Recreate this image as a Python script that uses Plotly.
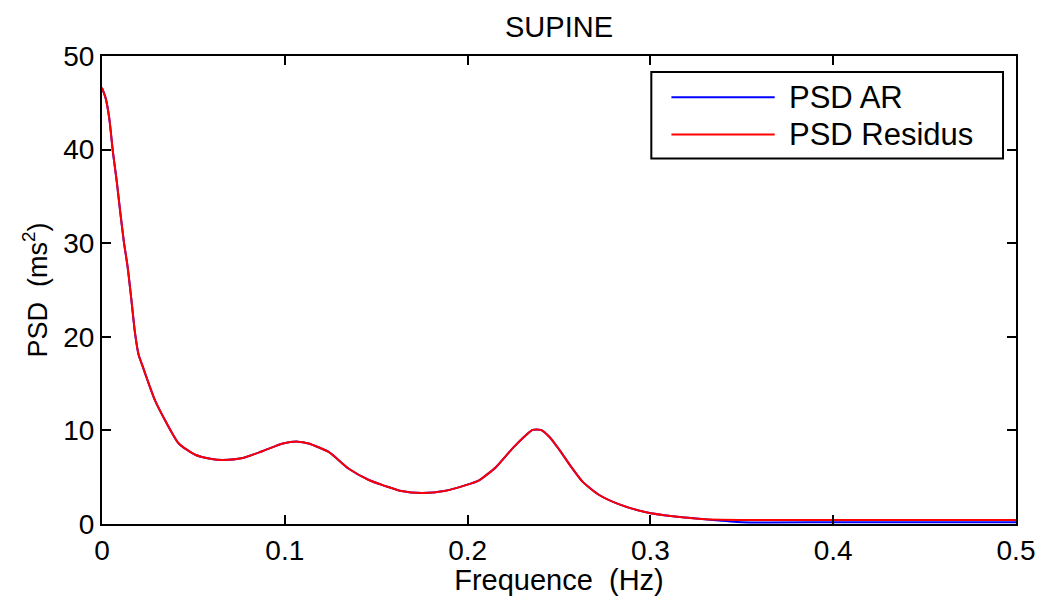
import plotly.graph_objects as go

# Frequency grid (Hz) and power spectral densities (ms^2)
freq = [0.000, 0.002, 0.004, 0.006, 0.008, 0.010, 0.012, 0.014, 0.016, 0.018,
        0.020, 0.0225, 0.025, 0.029, 0.035, 0.042, 0.051, 0.060, 0.066, 0.077,
        0.088, 0.099, 0.107, 0.113, 0.124, 0.135, 0.146, 0.155, 0.163, 0.175,
        0.188, 0.199, 0.2065, 0.2156, 0.2247, 0.232, 0.2355, 0.2400, 0.2448, 0.2503,
        0.2567, 0.263, 0.272, 0.283, 0.2977, 0.3123, 0.330, 0.350, 0.400, 0.450,
        0.500]

psd_residus = [46.6, 45.5, 43.3, 39.7, 36.7, 33.3, 30.1, 27.5, 24.1, 20.5,
               18.1, 16.7, 15.3, 13.2, 10.9, 8.6, 7.4, 6.95, 6.85, 7.05,
               7.8, 8.6, 8.8, 8.6, 7.7, 5.9, 4.7, 4.05, 3.55, 3.3,
               3.55, 4.15, 4.7, 6.1, 8.1, 9.5, 10.05, 10.05, 9.3, 7.9,
               6.1, 4.5, 3.1, 2.1, 1.25, 0.82, 0.5, 0.43, 0.42, 0.42,
               0.42]

psd_ar = [46.6, 45.5, 43.3, 39.7, 36.7, 33.3, 30.1, 27.5, 24.1, 20.5,
          18.1, 16.7, 15.3, 13.2, 10.9, 8.6, 7.4, 6.95, 6.85, 7.05,
          7.8, 8.6, 8.8, 8.6, 7.7, 5.9, 4.7, 4.05, 3.55, 3.3,
          3.55, 4.15, 4.7, 6.1, 8.1, 9.5, 10.05, 10.05, 9.3, 7.9,
          6.1, 4.5, 3.1, 2.1, 1.25, 0.82, 0.5, 0.19, 0.19, 0.19,
          0.19]

x_ticks = [0, 0.1, 0.2, 0.3, 0.4, 0.5]
x_ticklabels = ["0", "0.1", "0.2", "0.3", "0.4", "0.5"]
y_ticks = [0, 10, 20, 30, 40, 50]
y_ticklabels = ["0", "10", "20", "30", "40", "50"]

series_names = ["PSD AR", "PSD Residus"]
series_colors = ["#0000ff", "#ff0000"]

FONT = "Liberation Sans, Arial, sans-serif"

fig = go.Figure()
fig.add_trace(go.Scatter(x=freq, y=psd_ar, mode="lines", name=series_names[0],
                         line=dict(color=series_colors[0], width=2,
                                   shape="spline", smoothing=0.6),
                         showlegend=False))
fig.add_trace(go.Scatter(x=freq, y=psd_residus, mode="lines", name=series_names[1],
                         line=dict(color=series_colors[1], width=2,
                                   shape="spline", smoothing=0.6),
                         showlegend=False))

axis_common = dict(
    showline=True, linecolor="black", linewidth=2, mirror="ticks",
    ticks="inside", ticklen=9, tickwidth=1.5, tickcolor="black",
    showgrid=False, zeroline=False, automargin=False,
    tickfont=dict(family=FONT, size=28, color="black"),
)

fig.update_xaxes(range=[0, 0.5], tickvals=x_ticks, ticktext=x_ticklabels,
                 title=dict(text="Frequence\u00a0 (Hz)", standoff=4,
                            font=dict(family=FONT, size=29, color="black")),
                 **axis_common)
fig.update_yaxes(range=[0, 50], tickvals=y_ticks, ticktext=y_ticklabels,
                 title=dict(text="PSD\u00a0 (ms<sup>2</sup>)", standoff=8,
                            font=dict(family=FONT, size=27, color="black")),
                 **axis_common)

# Legend box drawn in paper coordinates
lx0, lx1, ly0, ly1 = 0.601, 0.9858, 0.781, 0.966
fig.add_shape(type="rect", xref="paper", yref="paper", x0=lx0, x1=lx1, y0=ly0, y1=ly1,
              line=dict(color="black", width=2), fillcolor="white", layer="above")
legend_rows = [0.912, 0.832]
for name, color, yy in zip(series_names, series_colors, legend_rows):
    fig.add_shape(type="line", xref="paper", yref="paper", x0=0.623, x1=0.736,
                  y0=yy, y1=yy, line=dict(color=color, width=2), layer="above")
    fig.add_annotation(xref="paper", yref="paper", x=0.749, y=yy, text=name,
                       showarrow=False, xanchor="left", yanchor="middle",
                       font=dict(family=FONT, size=31, color="black"))

fig.update_layout(
    width=1043, height=596,
    margin=dict(l=102, r=27, t=56, b=72, autoexpand=False),
    paper_bgcolor="white", plot_bgcolor="white",
    title=dict(text="SUPINE", x=0.5, xref="paper", y=0.955, yref="container",
               xanchor="center", yanchor="middle",
               font=dict(family=FONT, size=29, color="black")),
    showlegend=False,
)

fig.write_html("out.html")
